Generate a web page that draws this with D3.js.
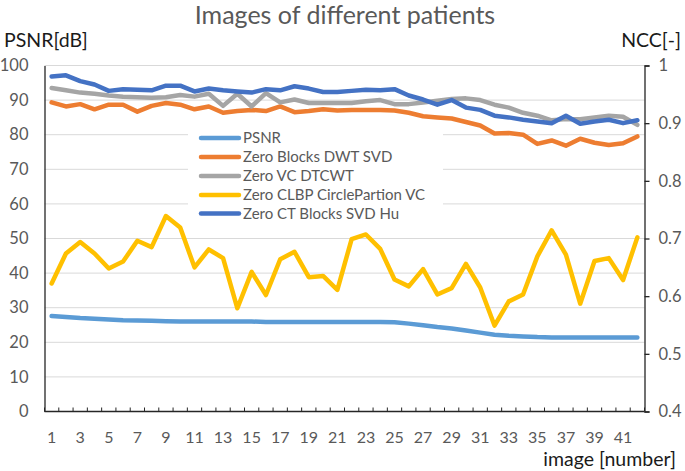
<!DOCTYPE html>
<html><head><meta charset="utf-8">
<script src="https://cdn.jsdelivr.net/npm/d3@7/dist/d3.min.js"></script>
<style>body{margin:0;background:#fff} svg{display:block}</style>
</head><body>
<svg id="c" width="685" height="471"></svg>
<script>
const categories = [1,2,3,4,5,6,7,8,9,10,11,12,13,14,15,16,17,18,19,20,21,22,23,24,25,26,27,28,29,30,31,32,33,34,35,36,37,38,39,40,41,42];
const xTickLabels = [1,3,5,7,9,11,13,15,17,19,21,23,25,27,29,31,33,35,37,39,41];
const leftTicks = [0,10,20,30,40,50,60,70,80,90,100];
const rightTicks = [0.4,0.5,0.6,0.7,0.8,0.9,1];

// PSNR [dB] (left axis)
const psnr = [27.6,27.3,27.0,26.8,26.6,26.4,26.3,26.2,26.1,26.0,26.0,26.0,26.0,26.0,26.0,25.9,25.9,25.9,25.9,25.9,25.9,25.9,25.9,25.9,25.8,25.4,24.9,24.4,24.0,23.4,22.8,22.2,21.9,21.7,21.5,21.4,21.4,21.4,21.4,21.4,21.4,21.4];
// NCC [-] (right axis)
const zeroBlocksDwtSvd = [0.936,0.929,0.933,0.924,0.932,0.932,0.920,0.930,0.935,0.932,0.924,0.929,0.918,0.921,0.923,0.921,0.929,0.919,0.921,0.924,0.922,0.923,0.923,0.923,0.922,0.918,0.912,0.910,0.908,0.902,0.896,0.882,0.883,0.880,0.864,0.870,0.861,0.873,0.866,0.862,0.865,0.877];
const zeroVcDtcwt = [0.961,0.957,0.953,0.951,0.948,0.946,0.945,0.944,0.945,0.949,0.946,0.951,0.930,0.951,0.929,0.952,0.936,0.941,0.935,0.935,0.935,0.935,0.938,0.940,0.933,0.933,0.936,0.939,0.942,0.943,0.940,0.932,0.927,0.918,0.913,0.905,0.907,0.907,0.910,0.913,0.911,0.897];
const zeroClbpCirclePartionVc = [0.622,0.674,0.694,0.674,0.648,0.660,0.696,0.685,0.739,0.719,0.650,0.681,0.666,0.579,0.642,0.602,0.664,0.677,0.633,0.635,0.611,0.699,0.707,0.682,0.629,0.617,0.647,0.603,0.614,0.656,0.615,0.549,0.591,0.603,0.669,0.714,0.672,0.587,0.661,0.666,0.628,0.702];
const zeroCtBlocksSvdHu = [0.981,0.983,0.973,0.967,0.956,0.959,0.958,0.957,0.965,0.965,0.955,0.960,0.957,0.955,0.953,0.959,0.957,0.964,0.960,0.954,0.954,0.956,0.958,0.957,0.959,0.948,0.941,0.932,0.940,0.927,0.923,0.913,0.910,0.906,0.903,0.900,0.913,0.899,0.903,0.906,0.900,0.905];

const seriesNames = ["PSNR","Zero Blocks DWT SVD","Zero VC DTCWT","Zero CLBP CirclePartion VC","Zero CT Blocks SVD Hu"];
const seriesColors = ["#5B9BD5","#ED7D31","#A5A5A5","#FFC000","#4472C4"];
const seriesAxis = ["left","right","right","right","right"];
const seriesValues = [psnr, zeroBlocksDwtSvd, zeroVcDtcwt, zeroClbpCirclePartionVc, zeroCtBlocksSvdHu];

const FONT = "Lato, 'Open Sans', sans-serif";
const L = 44.5, R = 644.5, T = 65.5, B = 411.5;

const svg = d3.select("#c");
const x = d3.scaleBand().domain(categories).range([L, R]).paddingInner(0).paddingOuter(0);
const yL = d3.scaleLinear().domain([0,100]).range([B, T]);
const yR = d3.scaleLinear().domain([0.4,1]).range([B, T]);
const cx = d => x(d) + x.bandwidth()/2;

// gridlines
svg.append("g").selectAll("line").data(leftTicks.filter(t => t > 0)).join("line")
  .attr("x1", L).attr("x2", R).attr("y1", d => yL(d)).attr("y2", d => yL(d))
  .attr("stroke", "#d9d9d9").attr("stroke-width", 1);

// series lines
const lineGen = (scale) => d3.line().x((d,i) => cx(categories[i])).y(d => scale(d));
seriesValues.forEach((vals, k) => {
  const sc = seriesAxis[k] === "left" ? yL : yR;
  svg.append("path").datum(vals)
    .attr("d", lineGen(sc))
    .attr("fill", "none").attr("stroke", seriesColors[k])
    .attr("stroke-width", 4.5).attr("stroke-linejoin", "round").attr("stroke-linecap", "round");
});

// left axis
const gL = svg.append("g").attr("transform", `translate(${L},0)`)
  .call(d3.axisLeft(yL).tickValues(leftTicks).tickSize(0).tickPadding(16));
gL.select(".domain").attr("stroke", "#262626").attr("stroke-width", 1.3);
gL.selectAll("text").attr("font-family", FONT).attr("font-size", 16.5).attr("fill", "#595959");

// right axis
const gR = svg.append("g").attr("transform", `translate(${R},0)`)
  .call(d3.axisRight(yR).tickValues(rightTicks).tickSize(5).tickPadding(9).tickFormat(d => d === 1 ? "1" : d3.format(".1f")(d)));
gR.select(".domain").attr("stroke", "#262626").attr("stroke-width", 1.3);
gR.selectAll(".tick line").attr("stroke", "#262626").attr("stroke-width", 1.3);
gR.selectAll("text").attr("font-family", FONT).attr("font-size", 16.5).attr("fill", "#595959");

// bottom axis
svg.append("line").attr("x1", L).attr("x2", R).attr("y1", B).attr("y2", B)
  .attr("stroke", "#262626").attr("stroke-width", 1.3);
const bounds = categories.map(c => x(c)).concat([R]);
svg.append("g").selectAll("line").data(bounds).join("line")
  .attr("x1", d => d).attr("x2", d => d).attr("y1", B).attr("y2", B - 4)
  .attr("stroke", "#262626").attr("stroke-width", 1);
svg.append("g").selectAll("text").data(xTickLabels).join("text")
  .attr("x", d => cx(d)).attr("y", 437).attr("dy", "0.35em").attr("text-anchor", "middle")
  .attr("font-family", FONT).attr("font-size", 16).attr("fill", "#595959").text(d => d);

// titles
svg.append("text").attr("x", 345).attr("y", 15).attr("dy", "0.35em").attr("text-anchor", "middle")
  .attr("font-family", FONT).attr("font-size", 25).attr("fill", "#595959").text("Images of different patients");
svg.append("text").attr("x", 4).attr("y", 40).attr("dy", "0.35em")
  .attr("font-family", FONT).attr("font-size", 19.5).attr("fill", "#1a1a1a").text("PSNR[dB]");
svg.append("text").attr("x", 681).attr("y", 40).attr("dy", "0.35em").attr("text-anchor", "end")
  .attr("font-family", FONT).attr("font-size", 19.5).attr("fill", "#1a1a1a").text("NCC[-]");
svg.append("text").attr("x", 676).attr("y", 459).attr("dy", "0.35em").attr("text-anchor", "end")
  .attr("font-family", FONT).attr("font-size", 19.5).attr("fill", "#1a1a1a").text("image [number]");

// legend
const lg = svg.append("g");
lg.append("rect").attr("x", 188).attr("y", 122).attr("width", 255).attr("height", 100).attr("fill", "#fff");
const rowY = [138, 157, 176, 195, 213.5];
seriesNames.forEach((n, k) => {
  lg.append("line").attr("x1", 201).attr("x2", 239).attr("y1", rowY[k]).attr("y2", rowY[k])
    .attr("stroke", seriesColors[k]).attr("stroke-width", 4.5).attr("stroke-linecap", "round");
  lg.append("text").attr("x", 243).attr("y", rowY[k]).attr("dy", "0.35em")
    .attr("font-family", FONT).attr("font-size", 15).attr("fill", "#595959").text(n);
});
</script>
</body></html>
